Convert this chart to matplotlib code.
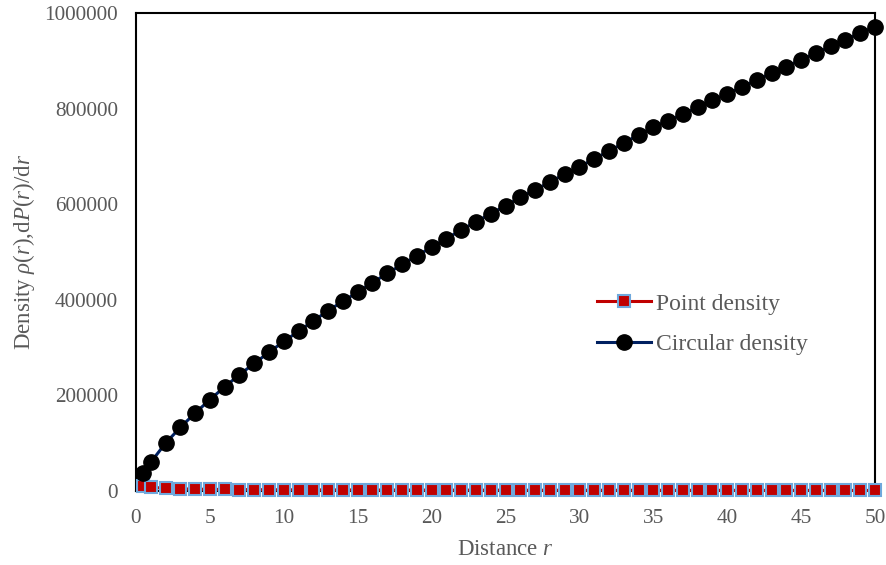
import numpy as np
import matplotlib
matplotlib.use("Agg")
import matplotlib.pyplot as plt
from matplotlib.ticker import FuncFormatter

plt.rcParams['font.family'] = ['Liberation Serif', 'DejaVu Serif']
plt.rcParams['mathtext.fontset'] = 'custom'
plt.rcParams['mathtext.rm'] = 'Liberation Serif'
plt.rcParams['mathtext.it'] = 'Liberation Serif:italic'

# distancias r
r = [0.5] + list(range(1, 51))

# densidad circular dP(r)/dr
circular = [37000, 60000, 100000, 133000, 163000, 191000, 218000, 243000, 267000, 290000,
            313000, 334000, 356000, 377000, 397000, 416000, 436000, 455000, 474000, 492000,
            510000, 528000, 546000, 563000, 580000, 597000, 614000, 630000, 646000, 663000,
            678000, 695000, 711000, 728000, 745000, 761000, 775000, 788000, 803000, 817000,
            831000, 845000, 860000, 874000, 888000, 902000, 916000, 930000, 944000, 958000,
            971000]

# densidad puntual rho(r)
puntual = [9500, 8000, 5500, 4500, 3900, 3500, 3200, 3000, 2800, 2600,
           2500, 2400, 2300, 2250, 2200, 2150, 2100, 2050, 2000, 1950,
           1900, 1870, 1840, 1810, 1780, 1750, 1720, 1690, 1660, 1630,
           1600, 1580, 1560, 1540, 1520, 1500, 1480, 1460, 1440, 1420,
           1400, 1380, 1360, 1340, 1320, 1300, 1280, 1260, 1240, 1220,
           1200]

gris = '#595959'

fig = plt.figure(figsize=(8.87, 5.65), dpi=100)
ax = fig.add_axes([0.1533, 0.131, 0.8332, 0.846])

ax.plot(r, puntual, color='#C00000', linewidth=2.2, marker='s', markersize=8,
        markerfacecolor='#C00000', markeredgecolor='#6FA8DC', markeredgewidth=1.5,
        label='Point density', zorder=3, clip_on=False)
ax.plot(r, circular, color='#002060', linewidth=2.2, marker='o', markersize=11,
        markerfacecolor='black', markeredgecolor='black',
        label='Circular density', zorder=4, clip_on=False)

ax.set_xlim(0, 50)
ax.set_ylim(0, 1000000)
ax.set_xticks(np.arange(0, 51, 5))
ax.set_yticks(np.arange(0, 1000001, 200000))
ax.yaxis.set_major_formatter(FuncFormatter(lambda v, p: f'{int(v)}'))
ax.tick_params(length=0, labelsize=15.3, labelcolor=gris)
ax.tick_params(axis='y', pad=13)
ax.tick_params(axis='x', pad=13)

for s in ax.spines.values():
    s.set_color('black')
    s.set_linewidth(1.5)

ax.set_xlabel('Distance $r$', fontsize=16.5, color=gris, labelpad=8)
ax.set_ylabel(r'Density $\rho$($r$),d$P$($r$)/d$r$', fontsize=16.5, color=gris, labelpad=5)

leg = ax.legend(loc='center left', bbox_to_anchor=(0.611, 0.349), borderaxespad=0,
                frameon=False, fontsize=17, labelspacing=0.8, handlelength=2.3,
                handletextpad=0.2)
for t in leg.get_texts():
    t.set_color(gris)

fig.savefig('out.png', dpi=100)
